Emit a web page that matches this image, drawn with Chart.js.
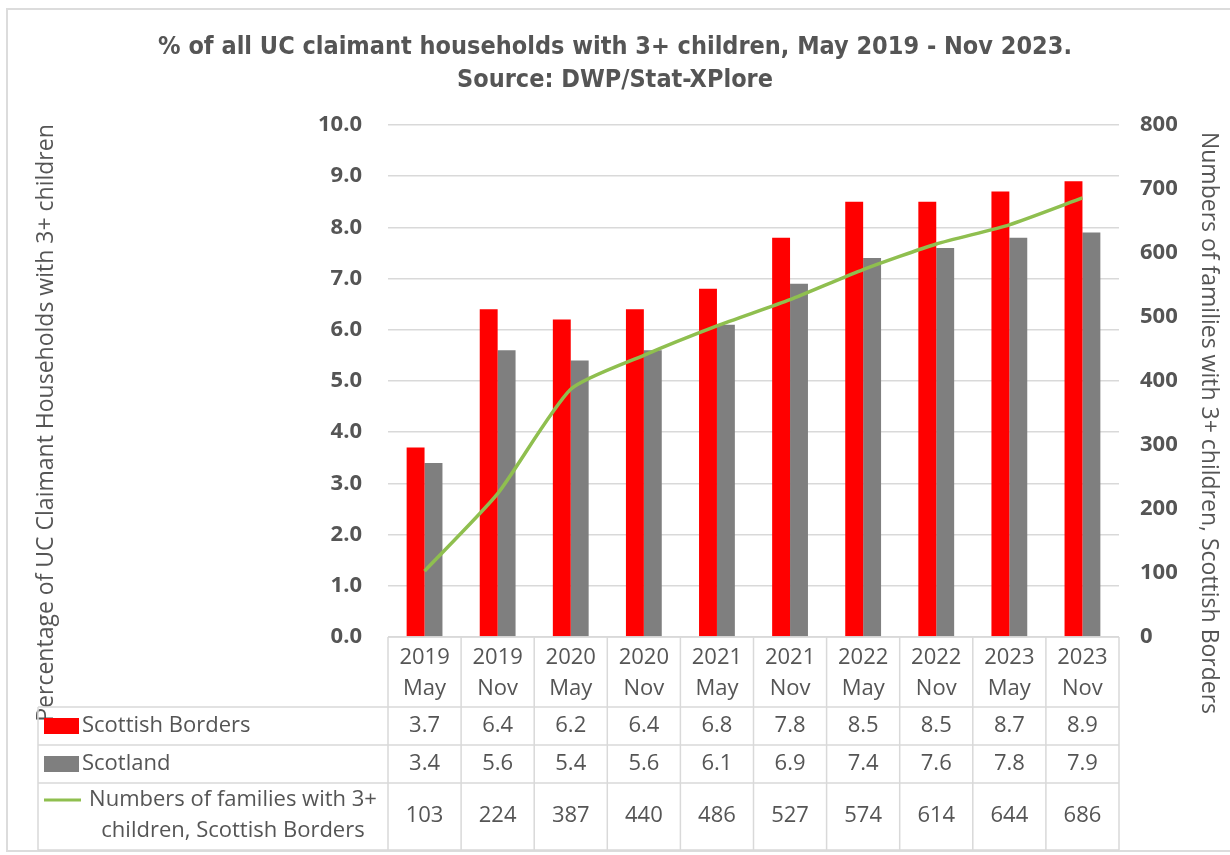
<!DOCTYPE html>
<html lang="en">
<head>
<meta charset="utf-8">
<title>UC claimant households with 3+ children</title>
<script src="https://cdn.jsdelivr.net/npm/chart.js@4.4.1/dist/chart.umd.min.js"></script>
<style>
    html, body { margin: 0; padding: 0; background: #ffffff; }
    .chart-container { position: relative; width: 1230px; height: 855px; }
</style>
</head>
<body>
<div class="chart-container">
    <canvas id="ucChart"></canvas>
</div>
<script>
// Chart data
const periods = [['2019', 'May'], ['2019', 'Nov'], ['2020', 'May'], ['2020', 'Nov'], ['2021', 'May'],
                 ['2021', 'Nov'], ['2022', 'May'], ['2022', 'Nov'], ['2023', 'May'], ['2023', 'Nov']];
const scottishBorders = [3.7, 6.4, 6.2, 6.4, 6.8, 7.8, 8.5, 8.5, 8.7, 8.9];
const scotland = [3.4, 5.6, 5.4, 5.6, 6.1, 6.9, 7.4, 7.6, 7.8, 7.9];
const families = [103, 224, 387, 440, 486, 527, 574, 614, 644, 686];

const titleLines = ['% of all UC claimant households with 3+ children, May 2019 - Nov 2023.', 'Source: DWP/Stat-XPlore'];
const leftAxisTitle = 'Percentage of UC Claimant Households with 3+ children';
const rightAxisTitle = 'Numbers of families with 3+ children, Scottish Borders';
const seriesNames = {
    borders: 'Scottish Borders',
    scotland: 'Scotland',
    families: ['Numbers of families with 3+', 'children, Scottish Borders']
};

const TEXT = '#555555';
const GRID = '#d9d9d9';
const RED = '#ff0000';
const GREY = '#7f7f7f';
const GREEN = '#8fbf4f';
const FONT = '"Open Sans", "DejaVu Sans", sans-serif';
const TITLE_FONT = '"DejaVu Sans Condensed", "Open Sans", sans-serif';

// Title, axis titles and outer frame
const decorationsPlugin = {
    id: 'decorations',
    beforeDraw(chart) {
        const ctx = chart.ctx;
        ctx.save();
        ctx.strokeStyle = '#dcdcdc';
        ctx.lineWidth = 2;
        ctx.strokeRect(7, 9, 1230, 842);
        ctx.restore();
    },
    afterDraw(chart) {
        const ctx = chart.ctx;
        ctx.save();
        ctx.fillStyle = TEXT;
        ctx.textAlign = 'center';
        ctx.textBaseline = 'middle';

        ctx.font = 'bold 25px ' + TITLE_FONT;
        ctx.fillText(titleLines[0], 615, 47);
        ctx.fillText(titleLines[1], 615, 80);

        ctx.font = '23px ' + FONT;
        ctx.save();
        ctx.translate(46, 423);
        ctx.rotate(-Math.PI / 2);
        ctx.fillText(leftAxisTitle, 0, 0);
        ctx.restore();

        ctx.save();
        ctx.translate(1209, 423);
        ctx.rotate(Math.PI / 2);
        ctx.fillText(rightAxisTitle, 0, 0);
        ctx.restore();

        ctx.restore();
    }
};

// Data table under the plot, aligned with the category scale
const dataTablePlugin = {
    id: 'dataTable',
    afterDraw(chart) {
        const ctx = chart.ctx;
        const xScale = chart.scales.x;
        const area = chart.chartArea;
        const colWidth = area.width / periods.length;
        const labelLeft = 38;
        const rows = [area.bottom, 707, 745, 783, 850];

        ctx.save();
        ctx.strokeStyle = GRID;
        ctx.lineWidth = 1.5;

        // horizontal rules
        ctx.beginPath();
        ctx.moveTo(area.left, rows[0]);
        ctx.lineTo(area.right, rows[0]);
        for (let r = 1; r < rows.length; r++) {
            ctx.moveTo(labelLeft, rows[r]);
            ctx.lineTo(area.right, rows[r]);
        }
        // vertical rules
        for (let i = 0; i <= periods.length; i++) {
            const x = area.left + i * colWidth;
            ctx.moveTo(x, rows[0]);
            ctx.lineTo(x, rows[4]);
        }
        ctx.moveTo(labelLeft, rows[1]);
        ctx.lineTo(labelLeft, rows[4]);
        ctx.stroke();

        // cell text
        ctx.fillStyle = TEXT;
        ctx.font = '22px ' + FONT;
        ctx.textAlign = 'center';
        ctx.textBaseline = 'middle';
        periods.forEach((p, i) => {
            const x = xScale.getPixelForValue(i);
            ctx.fillText(p[0], x, 658);
            ctx.fillText(p[1], x, 689);
            ctx.fillText(scottishBorders[i].toFixed(1), x, 726);
            ctx.fillText(scotland[i].toFixed(1), x, 764);
            ctx.fillText(String(families[i]), x, 816);
        });

        // legend keys
        ctx.fillStyle = RED;
        ctx.fillRect(44, 718, 35, 16);
        ctx.fillStyle = GREY;
        ctx.fillRect(44, 756, 35, 16);
        ctx.strokeStyle = GREEN;
        ctx.lineWidth = 3;
        ctx.beginPath();
        ctx.moveTo(44, 800);
        ctx.lineTo(81, 800);
        ctx.stroke();

        // row labels
        ctx.fillStyle = TEXT;
        ctx.textAlign = 'left';
        ctx.fillText(seriesNames.borders, 82, 726);
        ctx.fillText(seriesNames.scotland, 82, 764);
        ctx.textAlign = 'center';
        ctx.fillText(seriesNames.families[0], 233, 800);
        ctx.fillText(seriesNames.families[1], 233, 831);

        ctx.restore();
    }
};

document.addEventListener('DOMContentLoaded', function() {
    const ctx = document.getElementById('ucChart').getContext('2d');
    new Chart(ctx, {
        data: {
            labels: periods.map(p => p.join(' ')),
            datasets: [{
                type: 'line',
                label: seriesNames.families.join(' '),
                data: families,
                yAxisID: 'y1',
                borderColor: GREEN,
                borderWidth: 3.5,
                pointRadius: 0,
                tension: 0.2,
                order: 0
            }, {
                type: 'bar',
                label: seriesNames.borders,
                data: scottishBorders,
                yAxisID: 'y',
                backgroundColor: RED,
                categoryPercentage: 0.49,
                barPercentage: 1.0,
                order: 1
            }, {
                type: 'bar',
                label: seriesNames.scotland,
                data: scotland,
                yAxisID: 'y',
                backgroundColor: GREY,
                categoryPercentage: 0.49,
                barPercentage: 1.0,
                order: 2
            }]
        },
        options: {
            responsive: true,
            maintainAspectRatio: false,
            animation: false,
            layout: {
                padding: { top: 125, bottom: 218, left: 0, right: 0 }
            },
            plugins: {
                legend: { display: false },
                title: { display: false },
                tooltip: { enabled: false }
            },
            scales: {
                x: {
                    display: false
                },
                y: {
                    position: 'left',
                    min: 0,
                    max: 10,
                    ticks: {
                        stepSize: 1,
                        padding: 26,
                        color: TEXT,
                        font: { family: FONT, size: 22, weight: 'bold' },
                        callback: v => v.toFixed(1)
                    },
                    grid: { color: GRID, lineWidth: 1.5, drawTicks: false },
                    border: { display: false },
                    afterFit: scale => { scale.width = 388; }
                },
                y1: {
                    position: 'right',
                    min: 0,
                    max: 800,
                    ticks: {
                        stepSize: 100,
                        padding: 21,
                        color: TEXT,
                        font: { family: FONT, size: 22, weight: 'bold' }
                    },
                    grid: { display: false, drawTicks: false },
                    border: { display: false },
                    afterFit: scale => { scale.width = 111; }
                }
            }
        },
        plugins: [decorationsPlugin, dataTablePlugin]
    });
});
</script>
</body>
</html>
